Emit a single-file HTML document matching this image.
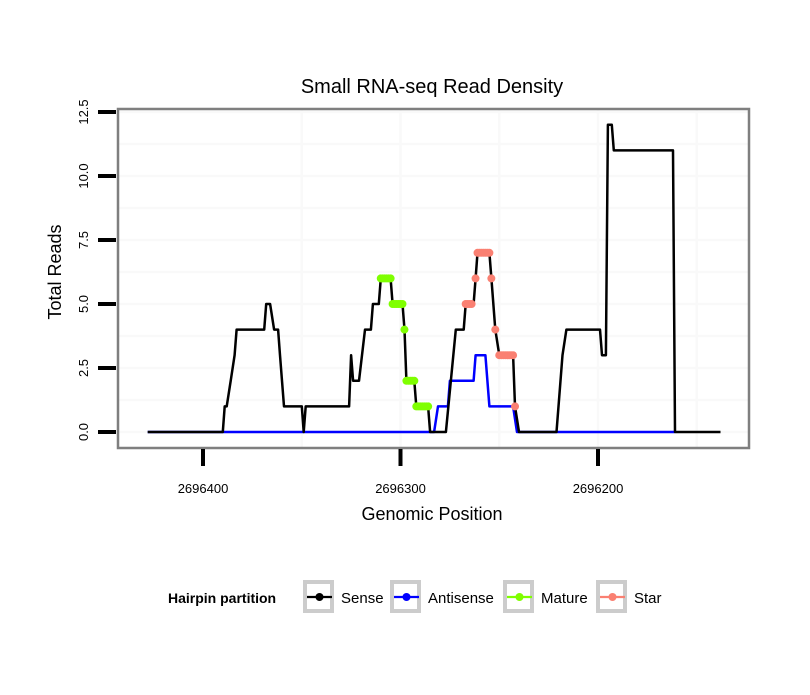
<!DOCTYPE html>
<html><head><meta charset="utf-8"><style>
body{margin:0;background:#fff;}
svg text{font-family:"Liberation Sans",sans-serif;}
</style></head><body>
<svg id="chart" width="810" height="690" xmlns="http://www.w3.org/2000/svg">
<rect width="810" height="690" fill="#fff"/>
<text x="432" y="93" font-size="20" text-anchor="middle" fill="#000">Small RNA-seq Read Density</text>
<g id="grid"></g>
<g id="series"></g>
<rect x="118" y="109" width="631" height="339" fill="none" stroke="#7f7f7f" stroke-width="2.5"/>
<g id="axes"></g>
<text x="432" y="520" font-size="18" text-anchor="middle">Genomic Position</text>
<text transform="translate(61,272) rotate(-90)" font-size="18" text-anchor="middle">Total Reads</text>
<g>
<text x="168" y="603" font-size="14" font-weight="bold">Hairpin partition</text>
<g id="legend-items"></g>
</g>
</svg>
<script>
const senseX=[2696428,2696390,2696389,2696388,2696386,2696384,2696383,2696369,2696368,2696366,2696364,2696362,2696361,2696359,2696350,2696349,2696348,2696326,2696325,2696324,2696321,2696318,2696315,2696314,2696311,2696310,2696305,2696304,2696299,2696298,2696297,2696293,2696292,2696286,2696285,2696277,2696272,2696268,2696267,2696263,2696262,2696261,2696255,2696254,2696252,2696250,2696243,2696242,2696240,2696221,2696218,2696216,2696199,2696198,2696196,2696195,2696193,2696192,2696162,2696161,2696138];
const senseY=[0,0,1,1,2,3,4,4,5,5,4,4,3,1,1,0,1,1,3,2,2,4,4,5,5,6,6,5,5,4,2,2,1,1,0,0,4,4,5,5,6,7,7,6,4,3,3,1,0,0,3,4,4,3,3,12,12,11,11,0,0];
const antiX=[2696428,2696283,2696281,2696276,2696275,2696263,2696262,2696257,2696255,2696243,2696241,2696161];
const antiY=[0,0,1,1,2,2,3,3,1,1,0,0];
const matureX=[2696310,2696309,2696308,2696307,2696306,2696305,2696304,2696303,2696302,2696301,2696300,2696299,2696298,2696297,2696296,2696295,2696294,2696293,2696292,2696291,2696290,2696289,2696288,2696287,2696286];
const matureY=[6,6,6,6,6,6,5,5,5,5,5,5,4,2,2,2,2,2,1,1,1,1,1,1,1];
const starX=[2696267,2696266,2696265,2696264,2696262,2696261,2696260,2696259,2696258,2696257,2696256,2696255,2696254,2696252,2696250,2696249,2696248,2696247,2696246,2696245,2696244,2696243,2696242];
const starY=[5,5,5,5,6,7,7,7,7,7,7,7,6,4,3,3,3,3,3,3,3,3,1];
const xTicks=[2696400,2696300,2696200];
const yTicks=[0,2.5,5,7.5,10,12.5];
const yTickLabels=["0.0","2.5","5.0","7.5","10.0","12.5"];
const legendLabels=["Sense","Antisense","Mature","Star"];
const legendColors=["#000000","#0000ff","#7fff00","#fa8072"];

const NS="http://www.w3.org/2000/svg";
function sx(g){return 203+(2696400-g)*1.975;}
function sy(v){return 432-v*25.6;}
function mk(tag,attrs,parent){const e=document.createElementNS(NS,tag);for(const k in attrs)e.setAttribute(k,attrs[k]);parent.appendChild(e);return e;}
const grid=document.getElementById('grid'),series=document.getElementById('series'),axes=document.getElementById('axes');
for(let i=0;i<yTicks.length;i++){
  for(const v of [yTicks[i],yTicks[i]+1.25]){ if(v>12.6) continue;
    const l=mk('line',{x1:119,x2:748,y1:sy(v),y2:sy(v),stroke:'#f9f9f9','stroke-width':2.5},grid);
    
    }
}
for(const g of [2696350,2696300,2696250,2696200,2696150]){
  const l=mk('line',{x1:sx(g),x2:sx(g),y1:110,y2:447,stroke:'#f9f9f9','stroke-width':2.5},grid);
  
  
}
function line(xs,ys,color,name){
  const p=xs.map((x,i)=>sx(x).toFixed(1)+','+sy(ys[i]).toFixed(1)).join(' ');
  const e=mk('polyline',{points:p,fill:'none',stroke:color,'stroke-width':2.5,'stroke-linejoin':'round'},series);
  
  
}
line(antiX,antiY,'#0000ff','antisense-line');
line(senseX,senseY,'#000000','sense-line');
function pts(xs,ys,color,name){
  xs.forEach((x,i)=>{
    const c=mk('circle',{cx:sx(x),cy:sy(ys[i]),r:4,fill:color},series);
    
    
  });
}
pts(matureX,matureY,'#7fff00','mature-point');
pts(starX,starY,'#fa8072','star-point');
yTicks.forEach((v,i)=>{
  const t=mk('line',{x1:98,x2:116,y1:sy(v),y2:sy(v),stroke:'#000','stroke-width':4},axes);
  
  
  const tx=mk('text',{transform:`translate(88,${sy(v)}) rotate(-90)`,'font-size':13,'text-anchor':'middle',fill:'#000'},axes);
  tx.textContent=yTickLabels[i];
  
  
});
xTicks.forEach(g=>{
  const t=mk('line',{x1:sx(g),x2:sx(g),y1:449,y2:466,stroke:'#000','stroke-width':4},axes);
  
  
  const tx=mk('text',{x:sx(g),y:493,'font-size':13,'text-anchor':'middle',fill:'#000'},axes);
  tx.textContent=String(g);
  
  
});
const li=document.getElementById('legend-items');
const boxX=[303,390,503,596];
legendLabels.forEach((lab,i)=>{
  const g=mk('g',{},li);
  
  
  mk('rect',{x:boxX[i]+2,y:582,width:27,height:29,fill:'#fff',stroke:'#cccccc','stroke-width':4},g);
  mk('line',{x1:boxX[i]+4,x2:boxX[i]+29,y1:597,y2:597,stroke:legendColors[i],'stroke-width':2.2},g);
  mk('circle',{cx:boxX[i]+16.5,cy:597,r:4,fill:legendColors[i]},g);
  const t=mk('text',{x:boxX[i]+38,y:603,'font-size':15,fill:'#000'},g);
  t.textContent=lab;
});
</script>
</body></html>
